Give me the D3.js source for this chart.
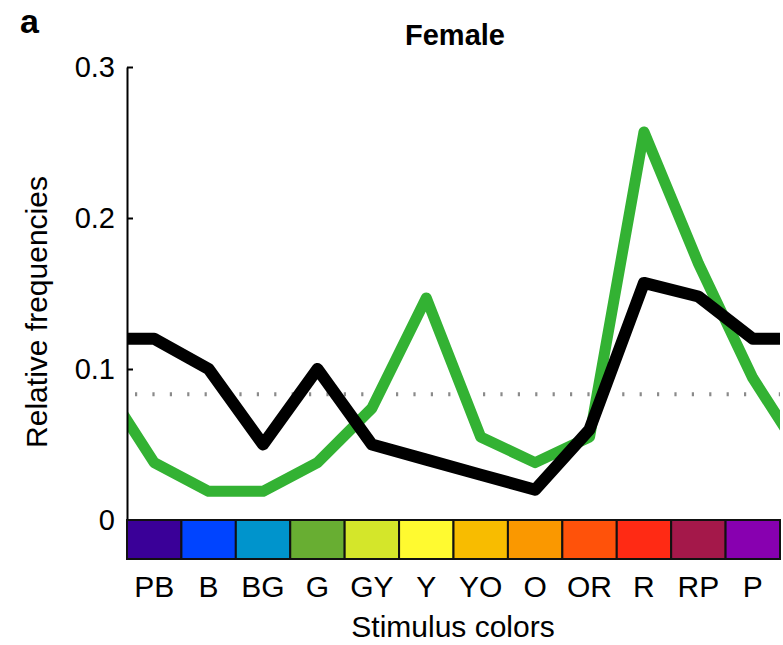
<!DOCTYPE html>
<html>
<head>
<meta charset="utf-8">
<script src="https://cdn.jsdelivr.net/npm/d3@7"></script>
<style>
  body { margin: 0; background: #fff; }
  svg text { font-family: "Liberation Sans", Arial, sans-serif; fill: #000; }
</style>
</head>
<body>
<svg id="chart" width="783" height="645"></svg>
<script>
// stimulus colour categories and their swatches
var categories = ['PB', 'B', 'BG', 'G', 'GY', 'Y', 'YO', 'O', 'OR', 'R', 'RP', 'P'];
var swatches = ['#3a0098', '#0044ff', '#0094cc', '#68ae32', '#d4e62a', '#fffa30',
                '#f8bc00', '#fa9800', '#ff520a', '#ff2a14', '#a4184a', '#8800b0'];
// relative frequencies
var blackSeries = [0.12, 0.10, 0.05, 0.10, 0.05, 0.04, 0.03, 0.02, 0.06, 0.157, 0.148, 0.12];
var greenSeries = [0.038, 0.019, 0.019, 0.038, 0.074, 0.147, 0.055, 0.038, 0.055, 0.257, 0.17, 0.094];
var chance = 1 / 12;
var yTicks = [0, 0.1, 0.2, 0.3];

document.addEventListener('DOMContentLoaded', function () {
    drawChart();
});

function drawChart() {
    const svg = d3.select('#chart');
    const margin = { top: 67, left: 127, right: 3, bottom: 125 };
    const width = 783, height = 645;
    const x0 = margin.left, x1 = width - margin.right;
    const yBase = height - margin.bottom;

    const x = d3.scaleLinear().domain([-0.5, categories.length - 0.5]).range([x0, x1]);
    const y = d3.scaleLinear().domain([0, 0.3]).range([yBase, margin.top]);
    const band = x(1) - x(0);

    svg.append('defs').append('clipPath').attr('id', 'plotclip')
        .append('rect')
        .attr('x', x0).attr('y', 0)
        .attr('width', x1 - x0).attr('height', yBase);

    // chance level
    svg.append('line')
        .attr('x1', x0).attr('x2', x1)
        .attr('y1', y(chance)).attr('y2', y(chance))
        .attr('stroke', '#8a8a8a')
        .attr('stroke-width', 4)
        .attr('stroke-dasharray', '2.2 15.2')
        .attr('stroke-dashoffset', -8);

    // lines are circular: wrap last/first value beyond the ends and clip
    function wrapped(vals) {
        const n = vals.length;
        const pts = vals.map((v, i) => [i, v]);
        pts.unshift([-1, vals[n - 1]]);
        pts.push([n, vals[0]]);
        return pts;
    }
    const line = d3.line().x(d => x(d[0])).y(d => y(d[1]));

    const g = svg.append('g').attr('clip-path', 'url(#plotclip)');
    g.append('path')
        .attr('d', line(wrapped(greenSeries)))
        .attr('fill', 'none')
        .attr('stroke', '#33b233')
        .attr('stroke-width', 11)
        .attr('stroke-linejoin', 'round');
    g.append('path')
        .attr('d', line(wrapped(blackSeries)))
        .attr('fill', 'none')
        .attr('stroke', '#000')
        .attr('stroke-width', 12)
        .attr('stroke-linejoin', 'round');

    // y axis
    const yAxis = d3.axisLeft(y)
        .tickValues(yTicks)
        .tickSizeInner(-6)
        .tickSizeOuter(0)
        .tickPadding(12)
        .tickFormat(d => d === 0 ? '0' : d3.format('.1f')(d));
    const ya = svg.append('g')
        .attr('transform', `translate(${x0},0)`)
        .call(yAxis);
    ya.selectAll('path, line').attr('stroke', '#000').attr('stroke-width', 2);
    ya.selectAll('text').style('font-size', '29px').attr('fill', '#000');

    // colour bar
    svg.append('g').selectAll('rect')
        .data(categories)
        .enter()
        .append('rect')
        .attr('x', (d, i) => x(i) - band / 2)
        .attr('y', yBase)
        .attr('width', band)
        .attr('height', 39)
        .attr('fill', (d, i) => swatches[i])
        .attr('stroke', '#111')
        .attr('stroke-width', 2);

    svg.append('g').selectAll('text')
        .data(categories)
        .enter()
        .append('text')
        .attr('x', (d, i) => x(i))
        .attr('y', 597)
        .attr('text-anchor', 'middle')
        .style('font-size', '30px')
        .text(d => d);

    svg.append('text')
        .attr('x', 453)
        .attr('y', 637)
        .attr('text-anchor', 'middle')
        .style('font-size', '30px')
        .text('Stimulus colors');

    svg.append('text')
        .attr('transform', 'translate(47,312) rotate(-90)')
        .attr('text-anchor', 'middle')
        .style('font-size', '30px')
        .text('Relative frequencies');

    svg.append('text')
        .attr('x', 455)
        .attr('y', 45)
        .attr('text-anchor', 'middle')
        .style('font-size', '29px')
        .style('font-weight', 'bold')
        .text('Female');

    svg.append('text')
        .attr('x', 20)
        .attr('y', 33)
        .style('font-size', '34px')
        .style('font-weight', 'bold')
        .text('a');
}
</script>
</body>
</html>
